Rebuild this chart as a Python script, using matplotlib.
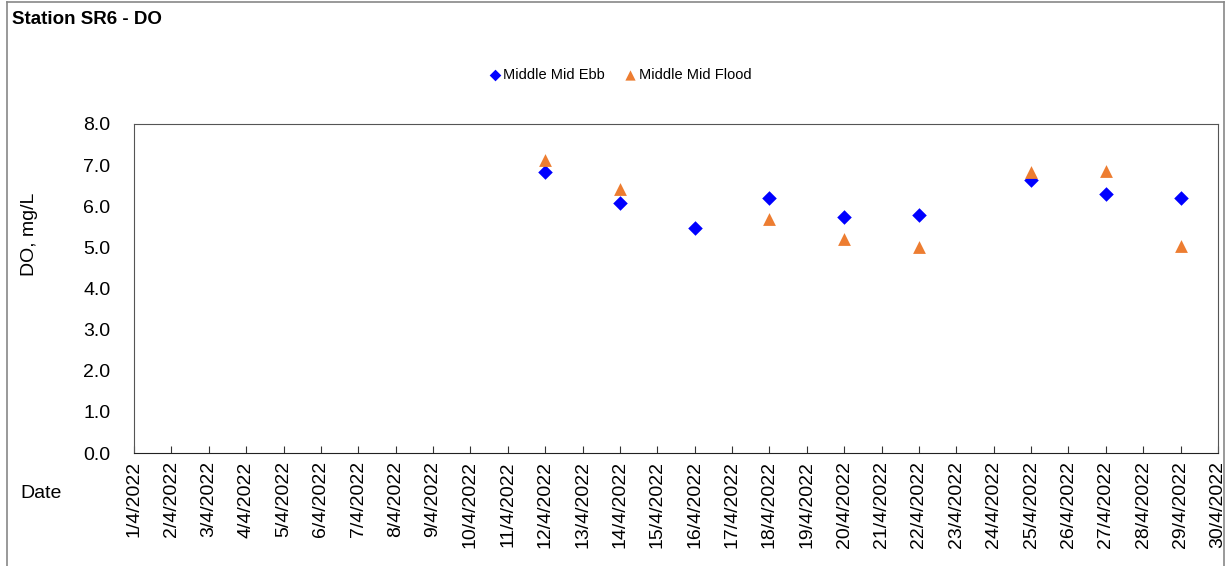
import matplotlib
matplotlib.use("Agg")
import matplotlib.pyplot as plt
from matplotlib.lines import Line2D
import pandas as pd

plt.rcParams['font.family'] = ['Liberation Sans', 'DejaVu Sans']

# DO readings (mg/L), April 2022
ebb_dates = ["2022-04-12", "2022-04-14", "2022-04-16", "2022-04-18", "2022-04-20",
             "2022-04-22", "2022-04-25", "2022-04-27", "2022-04-29"]
ebb_do = [6.83, 6.09, 5.47, 6.20, 5.73, 5.79, 6.64, 6.30, 6.20]

flood_dates = ["2022-04-12", "2022-04-14", "2022-04-18", "2022-04-20",
               "2022-04-22", "2022-04-25", "2022-04-27", "2022-04-29"]
flood_do = [7.13, 6.43, 5.69, 5.20, 5.00, 6.83, 6.86, 5.03]

tick_dates = pd.date_range("2022-04-01", "2022-04-30", freq="D")
tick_labels = [f"{d.day}/{d.month}/{d.year}" for d in tick_dates]
y_ticks = [0, 1, 2, 3, 4, 5, 6, 7, 8]

fig = plt.figure(figsize=(12.3, 5.66), dpi=100)
ax = fig.add_axes([134 / 1230, 1 - 453 / 566, (1218 - 134) / 1230, (453 - 124) / 566])

ax.scatter(pd.to_datetime(ebb_dates), ebb_do, marker="D", s=55, color="#0000FF",
           label="Middle Mid Ebb", zorder=3, linewidths=0)
ax.scatter(pd.to_datetime(flood_dates), flood_do, marker="^", s=85, color="#ED7D31",
           label="Middle Mid Flood", zorder=4, linewidths=0)

ax.set_xlim(tick_dates[0], tick_dates[-1])
ax.set_xticks(tick_dates)
ax.set_xticklabels(tick_labels, rotation=90, fontsize=14)
ax.set_ylim(0, 8)
ax.set_yticks(y_ticks)
ax.set_yticklabels([f"{v:.1f}" for v in y_ticks], fontsize=14)
ax.tick_params(axis="x", direction="in", length=5, pad=6, color="#333333")
ax.tick_params(axis="y", direction="in", length=0, pad=17)
for sp in ax.spines.values():
    sp.set_color("#555555")
ax.spines["bottom"].set_color("#222222")

fig.text(12 / 1230, 1 - 20 / 566, "Station SR6 - DO", fontsize=13.5, fontweight="bold",
         va="center", ha="left")
fig.text(29 / 1230, 1 - 234 / 566, "DO, mg/L", rotation=90, fontsize=14,
         va="center", ha="center")
fig.text(20 / 1230, 1 - 494 / 566, "Date", fontsize=14, va="center", ha="left")

fig.legend(loc="center", bbox_to_anchor=(620 / 1230, 1 - 75 / 566), ncol=2,
           frameon=False, fontsize=10.5, handlelength=0.8, handletextpad=0.2,
           columnspacing=1.3, markerscale=0.8)

# outer chart border
border = dict(color="#888888", linewidth=1.2, transform=fig.transFigure)
fig.add_artist(Line2D([7 / 1230, 7 / 1230], [0, 1 - 2 / 566], **border))
fig.add_artist(Line2D([7 / 1230, 1224 / 1230], [1 - 2 / 566, 1 - 2 / 566], **border))
fig.add_artist(Line2D([1224 / 1230, 1224 / 1230], [0, 1 - 2 / 566], **border))

fig.savefig("out.png", dpi=100)
